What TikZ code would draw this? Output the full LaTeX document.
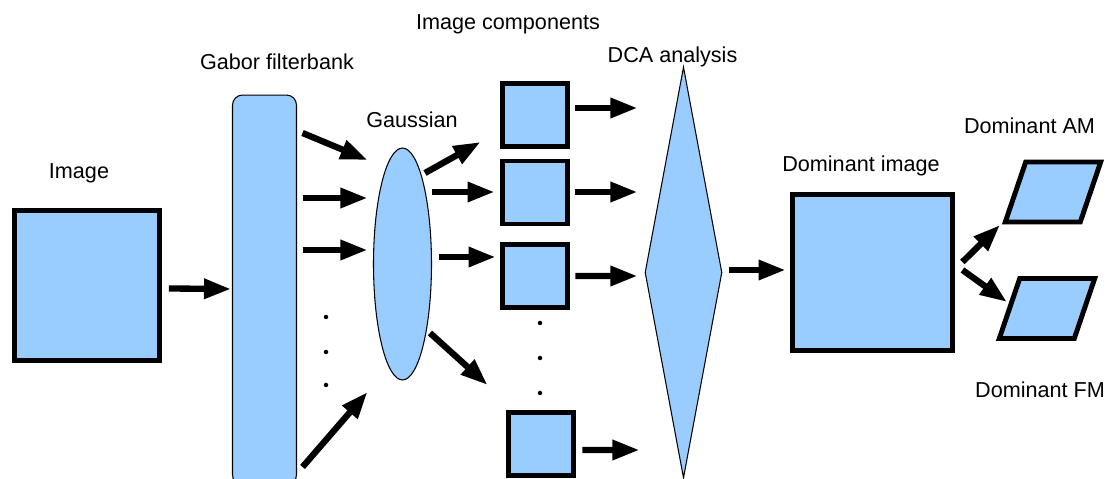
\documentclass[tikz,border=0pt]{standalone}
\usepackage{fontspec}
\setmainfont{Liberation Sans}
\usetikzlibrary{shapes.geometric,arrows.meta}
\definecolor{boxblue}{HTML}{99CCFF}

\begin{document}
\begin{tikzpicture}[x=0.02cm,y=-0.02cm,
		box/.style={draw,line width=2.8pt,fill=boxblue,inner sep=0pt},
		thinbox/.style={draw,line width=0.6pt,fill=boxblue,inner sep=0pt},
		comp/.style={box,minimum width=1.3cm,minimum height=1.26cm},
		slant/.style={box,xslant=0.34,minimum width=1.5cm,minimum height=1.2cm},
		arr/.style={line width=3.6pt,-{Triangle[length=0.54cm,width=0.38cm]}},
		lbl/.style={font=\fontsize{12.3}{14}\selectfont,inner sep=0pt}]
				\useasboundingbox (0,0) rectangle (1110,479);
				\clip (0,0) rectangle (1110,479);
				% blocks
				\node[box,minimum width=2.9cm,minimum height=3.0cm] (img) at (87,285.5) {};
				\node[thinbox,rounded corners=0.2cm,minimum width=1.28cm,minimum height=7.8cm] (gabor) at (264.5,290) {};
				\node[thinbox,ellipse,minimum width=1.16cm,minimum height=4.64cm] (gauss) at (402.5,264) {};
				\node[comp] (comp1) at (535,115) {};
				\node[comp] (comp2) at (535,192.5) {};
				\node[comp] (comp3) at (535,276) {};
				\node[comp] (comp4) at (541,444) {};
				\node[thinbox,diamond,minimum width=1.54cm,minimum height=8.22cm] (dca) at (683.5,272.5) {};
				\node[box,minimum width=3.2cm,minimum height=3.12cm] (dom) at (872.5,272.5) {};
				\node[slant] (am) at (1053,192) {};
				\node[slant] (fm) at (1047,308.5) {};
				% labels
				\node[lbl] (limg) at (79,173) {Image};
				\node[lbl] (lgabor) at (277,62) {Gabor filterbank};
				\node[lbl] (lgauss) at (412,120) {Gaussian};
				\node[lbl] (lcomp) at (508,24) {Image components};
				\node[lbl] (ldca) at (672.5,57) {DCA analysis};
				\node[lbl] (ldom) at (861,166) {Dominant image};
				\node[lbl] (lam) at (1029.5,126) {Dominant AM};
				\node[lbl] (lfm) at (1040,390) {Dominant FM};
				% arrows
				\draw[arr] ([shift={(7,3)}]img.east) -- ([shift={(-1,-1)}]gabor.west);
				\draw[arr] ([shift={(5.5,-157)}]gabor.east) -- ([shift={(-5.5,-104)}]gauss.west);
				\draw[arr] ([shift={(5.5,-92)}]gabor.east) -- ([shift={(-5.5,-66)}]gauss.west);
				\draw[arr] ([shift={(5.5,-40)}]gabor.east) -- ([shift={(-5.5,-14)}]gauss.west);
				\draw[arr] ([shift={(5.5,177)}]gabor.east) -- ([shift={(-5.5,128)}]gauss.west);
				\draw[arr] ([shift={(22.5,-91)}]gauss.center) -- ([shift={(-19.5,27)}]comp1.west);
				\draw[arr] ([shift={(29.5,-72)}]gauss.center) -- ([shift={(-5.5,-0.5)}]comp2.west);
				\draw[arr] ([shift={(6.5,-7)}]gauss.east) -- ([shift={(-4.5,-19)}]comp3.west);
				\draw[arr] ([shift={(27.5,69)}]gauss.center) -- ([shift={(-18.5,-59)}]comp4.west);
				\draw[arr] ([shift={(5.5,-7)}]comp1.east) -- ([shift={(-7,-164.5)}]dca.west);
				\draw[arr] ([shift={(5.5,-0.5)}]comp2.east) -- ([shift={(-7,-80.5)}]dca.west);
				\draw[arr] ([shift={(5.5,0)}]comp3.east) -- ([shift={(-7,3.5)}]dca.west);
				\draw[arr] ([shift={(6.5,6)}]comp4.east) -- ([shift={(-5,177.5)}]dca.west);
				\draw[arr] ([shift={(6,-2.5)}]dca.east) -- ([shift={(-4.5,-2.5)}]dom.west);
				\draw[arr] ([shift={(7.5,-10.5)}]dom.east) -- ([shift={(-53,33)}]am.center);
				\draw[arr] ([shift={(7.5,-2.5)}]dom.east) -- ([shift={(-40,-6.5)}]fm.center);
				% dots
				\foreach \y in {317,352,385} \fill (326,\y) circle (0.045cm);
				\foreach \y in {323,358,393} \fill (540,\y) circle (0.045cm);
			\end{tikzpicture}
\end{document}
